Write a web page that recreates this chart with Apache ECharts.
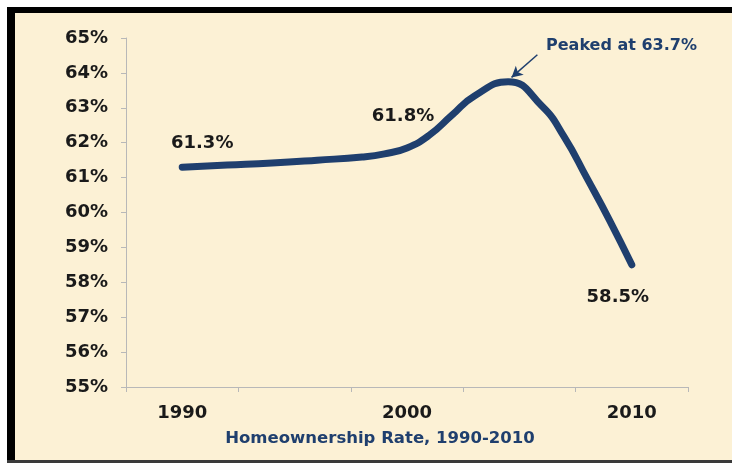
<!DOCTYPE html>
<html><head><meta charset="utf-8">
<script src="https://cdn.jsdelivr.net/npm/echarts@6/dist/echarts.min.js"></script>
<style>html,body{margin:0;padding:0;background:#fff}#c{width:732px;height:463px}</style>
</head><body><div id="c"></div>
<script>
const categories = ['1990', '', '2000', '', '2010'];
const years = [1990, 1992, 1994, 1996, 1998, 1999, 2000, 2001, 2002, 2003, 2004.5, 2006, 2007, 2008, 2009, 2010];
const rates = [61.3, 61.36, 61.42, 61.5, 61.59, 61.68, 61.85, 62.22, 62.79, 63.34, 63.75, 63.05, 62.16, 60.99, 59.79, 58.5];
const labelledYears = {1990: '61.3%', 2000: '61.8%', 2010: '58.5%'};
const yTicks = {min: 55, max: 65, step: 1};
const peak = {year: 2004.5, rate: 63.75, text: 'Peaked at 63.7%'};

const navy = '#1F3F6E';
const font = 'DejaVu Sans';
const labelOffsets = {1990: [20, -24], 2000: [-4, -32], 2010: [-14, 32]};

const seriesData = years.map((y, i) => {
  const item = {value: [y, rates[i]]};
  if (labelledYears[y]) {
    item.label = {show: true, formatter: labelledYears[y], position: 'inside', offset: labelOffsets[y],
      fontFamily: font, fontWeight: 'bold', fontSize: 18, color: '#1a1a1a'};
  }
  return item;
});

const chart = echarts.init(document.getElementById('c'), null, {renderer: 'canvas'});
chart.setOption({
  backgroundColor: '#FCF1D5',
  animation: false,
  grid: {left: 126, right: 44, top: 38, bottom: 76},
  xAxis: [{
    type: 'category', data: categories, boundaryGap: true,
    axisLine: {lineStyle: {color: '#B8B8B8', width: 1}},
    axisTick: {show: true, length: 5, interval: 0, lineStyle: {color: '#B8B8B8'}},
    axisLabel: {interval: 0, fontFamily: font, fontWeight: 'bold', fontSize: 18, color: '#1a1a1a', margin: 17}
  }, {
    type: 'value', min: 1987.5, max: 2012.5, show: false
  }],
  yAxis: {
    type: 'value', min: yTicks.min, max: yTicks.max, interval: yTicks.step,
    axisLine: {show: true, lineStyle: {color: '#B8B8B8', width: 1}},
    axisTick: {show: true, length: 5, lineStyle: {color: '#B8B8B8'}},
    splitLine: {show: false},
    axisLabel: {formatter: '{value}%', fontFamily: font, fontWeight: 'bold', fontSize: 18, color: '#1a1a1a', margin: 18}
  },
  series: [{
    type: 'line', xAxisIndex: 1, data: seriesData, smooth: 0.5,
    symbol: 'circle', symbolSize: 2, showSymbol: true, showAllSymbol: true,
    itemStyle: {color: navy},
    lineStyle: {color: navy, width: 7, cap: 'round', join: 'round'},
    markLine: {
      silent: true, symbol: ['none', 'arrow'], symbolSize: [9, 11],
      lineStyle: {color: navy, width: 1.5, type: 'solid'},
      label: {show: false},
      data: [[{coord: [peak.year + 1.3, peak.rate + 0.77]}, {coord: [peak.year + 0.15, peak.rate + 0.12]}]]
    }
  }],
  graphic: [
    {type: 'text', left: 546, top: 38, style: {text: peak.text, fontFamily: font, fontWeight: 'bold', fontSize: 16, fill: navy}},
    {type: 'text', x: 380, y: 430, style: {text: 'Homeownership Rate, 1990-2010', textAlign: 'center', fontFamily: font, fontWeight: 'bold', fontSize: 16.5, fill: navy}},
    {type: 'rect', shape: {x: 0, y: 0, width: 732, height: 7}, style: {fill: '#fff'}},
    {type: 'rect', shape: {x: 0, y: 0, width: 7, height: 463}, style: {fill: '#fff'}},
    {type: 'rect', shape: {x: 7, y: 7, width: 725, height: 6}, style: {fill: '#000'}},
    {type: 'rect', shape: {x: 7, y: 7, width: 8, height: 456}, style: {fill: '#000'}},
    {type: 'rect', shape: {x: 7, y: 460, width: 725, height: 3}, style: {fill: '#3a3a3a'}}
  ]
});
</script></body></html>
